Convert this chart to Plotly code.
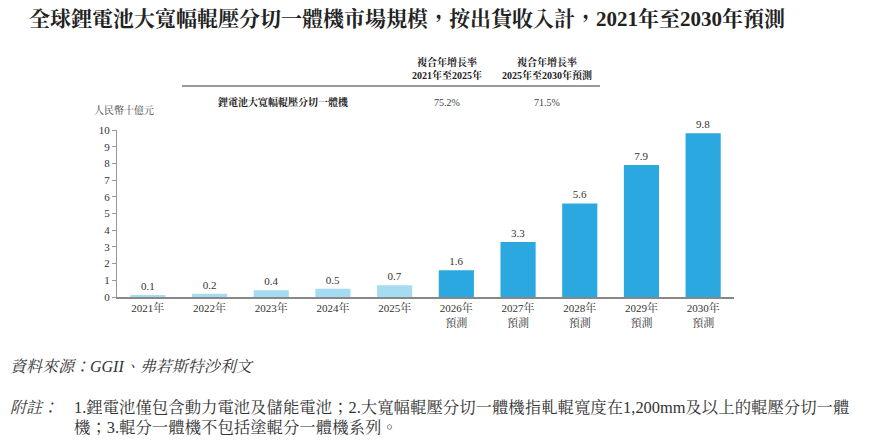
import plotly.graph_objects as go

years = ["2021年", "2022年", "2023年", "2024年", "2025年",
         "2026年<br>預測", "2027年<br>預測", "2028年<br>預測", "2029年<br>預測", "2030年<br>預測"]
values = [0.1, 0.2, 0.4, 0.5, 0.7, 1.6, 3.3, 5.6, 7.9, 9.8]
colors = ["#A6DCF1"] * 5 + ["#2CA8E0"] * 5
value_labels = ["0.1", "0.2", "0.4", "0.5", "0.7", "1.6", "3.3", "5.6", "7.9", "9.8"]
y_ticks = list(range(0, 11))

cagr_headers = ["複合年增長率<br>2021年至2025年", "複合年增長率<br>2025年至2030年預測"]
cagr_row_label = "鋰電池大寬幅輥壓分切一體機"
cagr_values = ["75.2%", "71.5%"]

title = "全球鋰電池大寬幅輥壓分切一體機市場規模，按出貨收入計，2021年至2030年預測"
unit = "人民幣十億元"
source = "資料來源：GGII、弗若斯特沙利文"
note_label = "附註："
note_line1 = "1.鋰電池僅包含動力電池及儲能電池；2.大寬幅輥壓分切一體機指軋輥寬度在1,200mm及以上的輥壓分切一體"
note_line2 = "機；3.輥分一體機不包括塗輥分一體機系列。"

FONT = "Liberation Serif, Noto Serif CJK TC, Noto Sans CJK TC, serif"

W, H = 871, 441
PL, PR, PT, PB = 117, 137, 130, 144

fig = go.Figure(go.Bar(
    x=years, y=values, marker_color=colors, marker_line_width=0,
    text=value_labels, textposition="outside", cliponaxis=False,
    textfont=dict(size=11, color="#333333", family=FONT),
    width=0.57,
))

fig.update_layout(
    width=W, height=H,
    margin=dict(l=PL, r=PR, t=PT, b=PB),
    paper_bgcolor="white", plot_bgcolor="white",
    font=dict(family=FONT, color="#333333", size=11),
    showlegend=False,
    bargap=0.43,
)
fig.update_xaxes(
    showline=True, linecolor="#888888", linewidth=2,
    ticks="", tickfont=dict(size=11, color="#333333"),
    showgrid=False,
)
fig.update_yaxes(
    range=[0, 10], tickvals=y_ticks, showgrid=False, zeroline=False,
    showline=True, linecolor="#999999", linewidth=1,
    ticks="outside", ticklen=4, tickcolor="#999999",
    tickfont=dict(size=11, color="#333333"),
)


def to_paper_x(px):
    return (px - PL) / (W - PL - PR)


def to_paper_y(py):
    return ((H - py) - PB) / (H - PT - PB)


def add_text(text, px, py, size, color="#333333", anchor="left"):
    fig.add_annotation(text=text, x=to_paper_x(px), y=to_paper_y(py),
                       xref="paper", yref="paper", showarrow=False,
                       xanchor=anchor, yanchor="middle",
                       font=dict(size=size, color=color))


add_text("<b>" + title + "</b>", 27, 19, 21, "#222222")
for cx, h in zip([447, 547], cagr_headers):
    add_text("<b>" + h + "</b>", cx, 69, 10, "#222222", "center")
add_text("<b>" + cagr_row_label + "</b>", 283, 102, 10, "#222222", "center")
for cx, v in zip([447, 547], cagr_values):
    add_text(v, cx, 102, 10, "#444444", "center")
add_text(unit, 92, 110, 10, "#444444")
add_text("<i>" + source + "</i>", 8, 366, 16)
add_text("<i>" + note_label + "</i>", 8, 407, 16)
add_text(note_line1, 72, 407, 16.4)
add_text(note_line2, 72, 427, 16.4)

fig.add_shape(type="line", xref="paper", yref="paper",
              x0=to_paper_x(182), x1=to_paper_x(600), y0=to_paper_y(86), y1=to_paper_y(86),
              line=dict(color="#333333", width=1))

fig.write_html("out.html")
